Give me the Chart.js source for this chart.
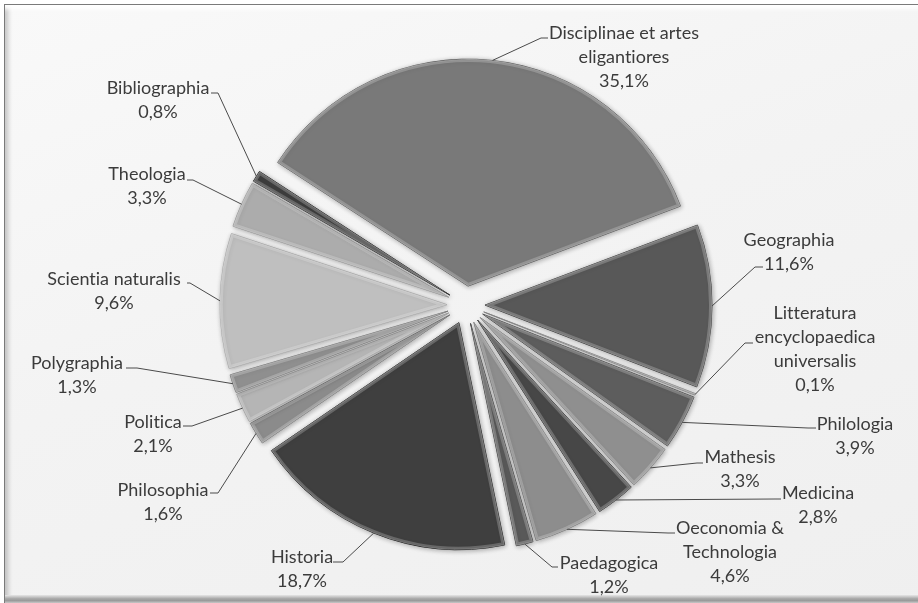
<!DOCTYPE html>
<html>
<head>
<meta charset="utf-8">
<script src="https://cdn.jsdelivr.net/npm/chart.js@4"></script>
<style>
  html, body { margin: 0; padding: 0; background: #ffffff; }
  #wrap { position: relative; width: 918px; height: 603px; overflow: hidden; background: #ffffff; }
  #frame {
    position: absolute; left: 4px; top: 4px; width: 930px; height: 610px;
    border-top: 1.5px solid #7a7a7a; border-left: 1.5px solid #7a7a7a;
    background: linear-gradient(160deg, #f9f9f9 0%, #f3f3f3 45%, #efefef 100%);
    box-shadow: inset 0 7px 4px -3px #ffffff, inset 6px 0 5px -3px rgba(0,0,0,0.22);
  }
  #bottomband {
    position: absolute; left: 5px; top: 595px; width: 918px; height: 8px;
    background: linear-gradient(180deg, #e6e6e6 0%, #a9a9a9 45%, #9a9a9a 70%, #c8c8c8 100%);
  }
  #c { position: absolute; left: 0; top: 0; }
</style>
</head>
<body>
<div id="wrap">
  <div id="frame"></div>
  <div id="bottomband"></div>
  <canvas id="c" width="918" height="603"></canvas>
</div>
<script>
// ---- data ----
const categories = [
  'Disciplinae et artes eligantiores', 'Geographia', 'Litteratura encyclopaedica universalis',
  'Philologia', 'Mathesis', 'Medicina', 'Oeconomia & Technologia', 'Paedagogica',
  'Historia', 'Philosophia', 'Politica', 'Polygraphia', 'Scientia naturalis',
  'Theologia', 'Bibliographia'
];
const shares = [35.1, 11.6, 0.1, 3.9, 3.3, 2.8, 4.6, 1.2, 18.7, 1.6, 2.1, 1.3, 9.6, 3.3, 0.8];
const labelLines = [
  ['Disciplinae et artes', 'eligantiores'], ['Geographia'], ['Litteratura', 'encyclopaedica', 'universalis'],
  ['Philologia'], ['Mathesis'], ['Medicina'], ['Oeconomia &', 'Technologia'], ['Paedagogica'],
  ['Historia'], ['Philosophia'], ['Politica'], ['Polygraphia'], ['Scientia naturalis'],
  ['Theologia'], ['Bibliographia']
];

// ---- styling / layout ----
const sliceGrays = ['#797979', '#585858', '#a0a0a0', '#5d5d5d', '#8f8f8f', '#474747', '#8d8d8d', '#595959',
                    '#3f3f3f', '#8b8b8b', '#b5b5b5', '#8f8f8f', '#bfbfbf', '#acacac', '#3d3d3d'];
// label block: text centre x, first line centre y, attach point (ax, ay), knee x
const labelLayout = [
  { x: 624, y: 33,  ax: 548, ay: 38,  kx: 541 },
  { x: 789, y: 240, ax: 763, ay: 267, kx: 755 },
  { x: 815, y: 313, ax: 753, ay: 343, kx: 745 },
  { x: 855, y: 424, ax: 816, ay: 428, kx: 808 },
  { x: 740, y: 457, ax: 703, ay: 463, kx: 697 },
  { x: 818, y: 493, ax: 781, ay: 499, kx: 775 },
  { x: 730, y: 528, ax: 675, ay: 533, kx: 668 },
  { x: 609, y: 563, ax: 558, ay: 567, kx: 552 },
  { x: 302, y: 557, ax: 333, ay: 562, kx: 343 },
  { x: 163, y: 490, ax: 210, ay: 493, kx: 218 },
  { x: 153, y: 422, ax: 183, ay: 426, kx: 192 },
  { x: 77,  y: 363, ax: 126, ay: 368, kx: 137 },
  { x: 114, y: 279, ax: 187, ay: 283, kx: 190 },
  { x: 147, y: 174, ax: 187, ay: 180, kx: 193 },
  { x: 158, y: 88,  ax: 211, ay: 93,  kx: 218 }
];
const EXPLODE = 19;
const LINE_H = 24;
const FONT = '18px Lato, "Open Sans", sans-serif';

function shade(hex, amt) {
  const v = Math.max(0, Math.min(255, parseInt(hex.slice(1, 3), 16) + amt));
  const h = v.toString(16).padStart(2, '0');
  return '#' + h + h + h;
}

const explodePlugin = {
  id: 'explode',
  afterUpdate(chart) {
    chart.getDatasetMeta(0).data.forEach((arc) => {
      if (arc._exploded) return;
      const orig = arc.draw;
      arc.draw = function (ctx, area) {
        const h = (this.startAngle + this.endAngle) / 2;
        ctx.save();
        ctx.translate(Math.cos(h) * EXPLODE, Math.sin(h) * EXPLODE);
        ctx.save();
        ctx.shadowColor = 'rgba(0,0,0,0.30)';
        ctx.shadowBlur = 5;
        ctx.shadowOffsetX = 1;
        ctx.shadowOffsetY = 1;
        orig.call(this, ctx, area);
        ctx.restore();
        // soft bevel: light inner rim
        ctx.beginPath();
        ctx.moveTo(this.x, this.y);
        ctx.arc(this.x, this.y, this.outerRadius, this.startAngle, this.endAngle);
        ctx.closePath();
        ctx.clip();
        ctx.lineJoin = 'round';
        ctx.lineWidth = 6;
        ctx.strokeStyle = 'rgba(255,255,255,0.22)';
        ctx.stroke();
        ctx.lineWidth = 2;
        ctx.strokeStyle = 'rgba(255,255,255,0.18)';
        ctx.stroke();
        ctx.restore();
      };
      arc._exploded = true;
    });
  }
};

const labelPlugin = {
  id: 'sliceLabels',
  afterDatasetsDraw(chart) {
    const ctx = chart.ctx;
    const arcs = chart.getDatasetMeta(0).data;
    ctx.save();
    ctx.lineWidth = 1;
    ctx.strokeStyle = '#4a4a4a';
    arcs.forEach((arc, i) => {
      const L = labelLayout[i];
      const h = (arc.startAngle + arc.endAngle) / 2;
      const r = arc.outerRadius + EXPLODE;
      const px = arc.x + Math.cos(h) * r;
      const py = arc.y + Math.sin(h) * r;
      ctx.beginPath();
      ctx.moveTo(px, py);
      ctx.lineTo(L.kx, L.ay);
      ctx.lineTo(L.ax, L.ay);
      ctx.stroke();
    });
    ctx.fillStyle = '#3b3b3b';
    ctx.font = FONT;
    ctx.textAlign = 'center';
    ctx.textBaseline = 'middle';
    if ('textRendering' in ctx) ctx.textRendering = 'optimizeSpeed';
    arcs.forEach((arc, i) => {
      const L = labelLayout[i];
      const lines = labelLines[i].concat([shares[i].toFixed(1).replace('.', ',') + '%']);
      lines.forEach((t, k) => ctx.fillText(t, L.x, L.y + k * LINE_H));
    });
    ctx.restore();
  }
};

new Chart(document.getElementById('c'), {
  type: 'pie',
  data: {
    labels: categories,
    datasets: [{
      data: shares,
      backgroundColor: sliceGrays,
      borderColor: sliceGrays.map(c => shade(c, -25)),
      borderWidth: 1
    }]
  },
  options: {
    responsive: false,
    animation: false,
    events: [],
    radius: 227,
    rotation: -57,
    layout: { padding: { left: 14, top: 7, right: 0, bottom: 0 } },
    plugins: { legend: { display: false }, tooltip: { enabled: false } }
  },
  plugins: [explodePlugin, labelPlugin]
});
</script>
</body>
</html>
